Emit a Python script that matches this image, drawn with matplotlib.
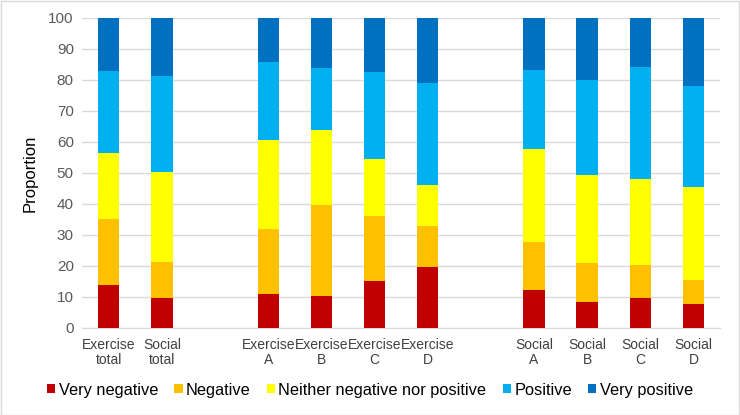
import matplotlib.pyplot as plt
from matplotlib.patches import Rectangle
import numpy as np

plt.rcParams['font.family'] = ['Liberation Sans', 'DejaVu Sans']

categories = ["Exercise\ntotal", "Social\ntotal", "",
              "Exercise\nA", "Exercise\nB", "Exercise\nC", "Exercise\nD", "",
              "Social\nA", "Social\nB", "Social\nC", "Social\nD"]

series = ["Very negative", "Negative", "Neither negative nor positive",
          "Positive", "Very positive"]

# blank slots hold None
very_negative = [13.8, 9.5, None, 10.9, 10.3, 15.0, 19.7, None, 12.2, 8.2, 9.6, 7.8]
negative = [21.3, 11.9, None, 21.0, 29.2, 21.0, 13.1, None, 15.6, 12.8, 10.6, 7.7]
neither = [21.4, 29.0, None, 28.6, 24.4, 18.5, 13.3, None, 30.0, 28.3, 27.8, 29.9]
positive = [26.4, 31.0, None, 25.3, 19.9, 28.1, 32.9, None, 25.5, 30.6, 36.2, 32.5]
very_positive = [17.1, 18.6, None, 14.2, 16.2, 17.2, 21.0, None, 16.7, 20.1, 15.8, 22.1]

colors = ["#C00000", "#FFC000", "#FFFF00", "#00B0F0", "#0070C0"]

fig = plt.figure(figsize=(7.4, 4.15), dpi=100)
ax = fig.add_axes([0.111, 0.21, 0.862, 0.747])

x = np.arange(len(categories))
bottom = np.zeros(len(categories))
for name, vals, c in zip(series, [very_negative, negative, neither, positive, very_positive], colors):
    v = np.array([0 if a is None else a for a in vals], dtype=float)
    ax.bar(x, v, 0.4, bottom=bottom, color=c, label=name, zorder=3)
    bottom += v

ax.set_xlim(-0.5, len(categories) - 0.5)
ax.set_ylim(0, 100)
ax.set_yticks(range(0, 101, 10))
ax.set_xticks(x)
ax.set_xticklabels(categories, fontsize=10, color="#404040", linespacing=1.1)
ax.tick_params(axis="y", labelsize=11, colors="#595959", length=0, pad=6)
ax.tick_params(axis="x", length=0, pad=7)
ax.grid(axis="y", color="#D9D9D9", linewidth=1, zorder=0)
for s in ["top", "right", "left"]:
    ax.spines[s].set_visible(False)
ax.spines["bottom"].set_color("#D9D9D9")
ax.set_ylabel("Proportion", fontsize=12, color="#000000", labelpad=8)

fig.legend(loc="center", bbox_to_anchor=(0.5, 0.06), ncol=5, frameon=False,
           fontsize=11.8, handlelength=0.5, handleheight=0.5, handletextpad=0.2,
           columnspacing=1.0)

fig.patches.append(Rectangle((0.001, 0.001), 0.997, 0.996, transform=fig.transFigure,
                             fill=False, edgecolor="#D9D9D9", linewidth=1))

fig.savefig("out.png", dpi=100)
